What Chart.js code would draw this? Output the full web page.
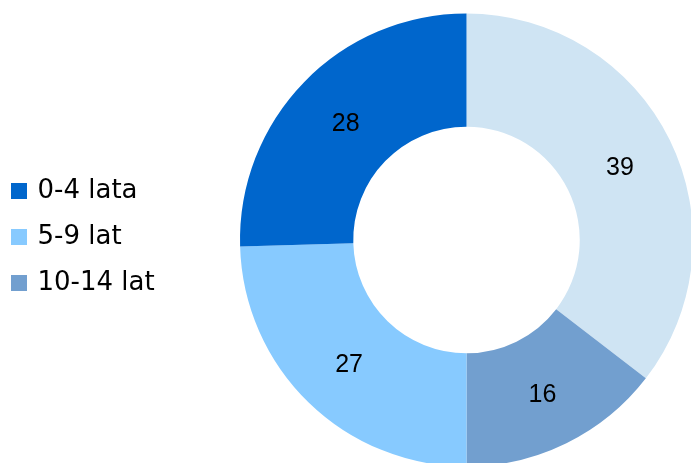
<!DOCTYPE html>
<html>
<head>
<meta charset="utf-8">
<script src="https://cdn.jsdelivr.net/npm/chart.js@4"></script>
<style>
  html, body { margin: 0; padding: 0; background: #ffffff; overflow: hidden; }
  #wrap { width: 691px; height: 463px; position: relative; }
</style>
</head>
<body>
<div id="wrap"><canvas id="c" width="691" height="463"></canvas></div>
<script>
// Data (clockwise from 12 o'clock)
const categories = ['', '10-14 lat', '5-9 lat', '0-4 lata'];
const values = [39, 16, 27, 28];
const colors = ['#CFE4F3', '#729FCF', '#87CAFF', '#0066CC'];

const sliceLabels = {
  id: 'sliceLabels',
  afterDatasetsDraw(chart) {
    const ctx = chart.ctx;
    const meta = chart.getDatasetMeta(0);
    ctx.save();
    ctx.font = '25px "Liberation Sans", Arial, sans-serif';
    ctx.fillStyle = '#000000';
    ctx.textAlign = 'center';
    ctx.textBaseline = 'middle';
    meta.data.forEach((arc, i) => {
      const p = arc.tooltipPosition();
      ctx.fillText(String(chart.data.datasets[0].data[i]), p.x + 1, p.y + 3);
    });
    ctx.restore();
  }
};

const pinArea = {
  id: 'pinArea',
  afterLayout(chart) {
    chart.chartArea = { left: 240, top: 13, right: 693, bottom: 467, width: 453, height: 454 };
  }
};

new Chart(document.getElementById('c'), {
  type: 'doughnut',
  data: {
    labels: categories,
    datasets: [{
      data: values,
      backgroundColor: colors,
      borderWidth: 0,
      hoverOffset: 0
    }]
  },
  options: {
    responsive: false,
    animation: false,
    cutout: '50%',
    layout: { padding: { left: -6.5, top: 11, bottom: 0, right: 0 } },
    plugins: {
      tooltip: { enabled: false },
      legend: {
        position: 'left',
        align: 'center',
        labels: {
          font: { family: '"DejaVu Sans", Verdana, sans-serif', size: 26 },
          color: '#000000',
          boxWidth: 11,
          boxHeight: 11,
          padding: 20,
          generateLabels(chart) {
            const base = Chart.overrides.doughnut.plugins.legend.labels.generateLabels(chart);
            return base
              .filter(it => it.index !== 0)
              .reverse()
              .map(it => Object.assign(it, { lineWidth: 5, strokeStyle: it.fillStyle }));
          }
        }
      }
    }
  },
  plugins: [pinArea, sliceLabels]
});
</script>
</body>
</html>
